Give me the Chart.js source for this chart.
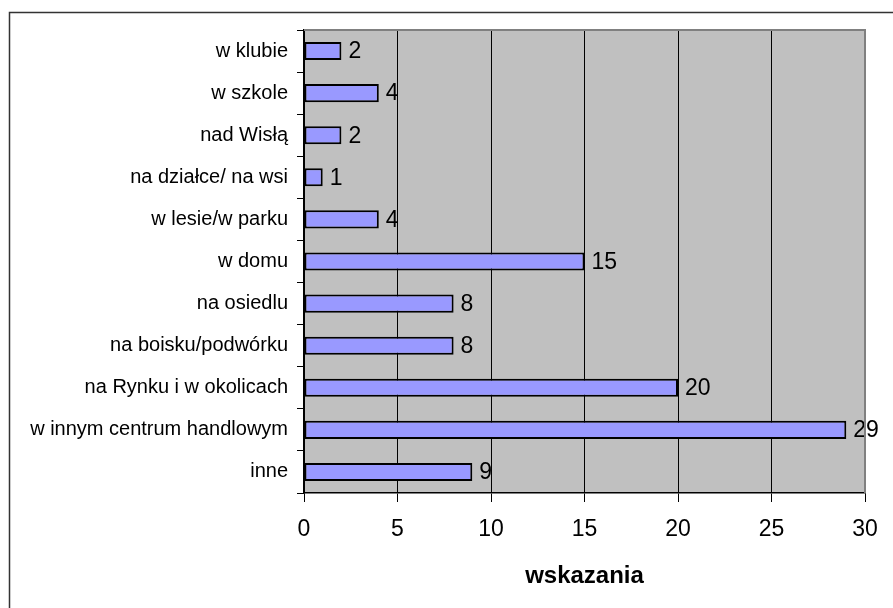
<!DOCTYPE html>
<html>
<head>
<meta charset="utf-8">
<script src="https://cdn.jsdelivr.net/npm/chart.js@4"></script>
<style>
  html, body { margin: 0; padding: 0; background: #fff; }
  #wrap { width: 893px; height: 608px; position: relative; }
</style>
</head>
<body>
<div id="wrap"><canvas id="barChart" width="893" height="608"></canvas></div>
<script>
const categories = [
  "w klubie", "w szkole", "nad Wisłą", "na działce/ na wsi", "w lesie/w parku",
  "w domu", "na osiedlu", "na boisku/podwórku", "na Rynku i w okolicach",
  "w innym centrum handlowym", "inne"
];
const counts = [2, 4, 2, 1, 4, 15, 8, 8, 20, 29, 9];
const xTicks = [0, 5, 10, 15, 20, 25, 30];
const axisTitle = "wskazania";

const FONT = "'Liberation Sans', Arial, sans-serif";

// gray plot area, gray top edge, outer frame
const frame = {
  id: "frame",
  beforeDraw(chart) {
    const { ctx, chartArea: a } = chart;
    ctx.save();
    ctx.fillStyle = "#c0c0c0";
    ctx.fillRect(a.left, a.top, a.right - a.left, a.bottom - a.top);
    ctx.restore();
  },
  afterDraw(chart) {
    const { ctx, chartArea: a } = chart;
    ctx.save();
    ctx.strokeStyle = "#808080";
    ctx.lineWidth = 2;
    ctx.beginPath();
    ctx.moveTo(a.left, a.top);
    ctx.lineTo(a.right, a.top);
    ctx.lineTo(a.right, a.bottom);
    ctx.stroke();
    ctx.strokeStyle = "#333";
    ctx.lineWidth = 1.5;
    ctx.beginPath();
    ctx.moveTo(9.5, 608);
    ctx.lineTo(9.5, 12.5);
    ctx.lineTo(893, 12.5);
    ctx.stroke();
    ctx.restore();
  }
};

const valueLabels = {
  id: "valueLabels",
  afterDatasetsDraw(chart) {
    const { ctx } = chart;
    const meta = chart.getDatasetMeta(0);
    ctx.save();
    ctx.fillStyle = "#000";
    ctx.font = "23px " + FONT;
    ctx.textBaseline = "middle";
    ctx.textAlign = "left";
    meta.data.forEach((bar, i) => {
      ctx.fillText(String(counts[i]), bar.x + 7, bar.y + 1);
    });
    ctx.restore();
  }
};

new Chart(document.getElementById("barChart"), {
  type: "bar",
  data: {
    labels: categories,
    datasets: [{
      data: counts,
      backgroundColor: "#9999ff",
      borderColor: "#000",
      borderWidth: 2,
      borderSkipped: false,
      barPercentage: 0.43,
      categoryPercentage: 1
    }]
  },
  options: {
    indexAxis: "y",
    responsive: false,
    animation: false,
    layout: { padding: { left: 0, top: 30, right: 28, bottom: 0 } },
    plugins: { legend: { display: false }, tooltip: { enabled: false } },
    scales: {
      x: {
        min: 0,
        max: 30,
        afterFit: s => { s.height = 115; },
        afterBuildTicks: s => { s.ticks = xTicks.map(v => ({ value: v })); },
        ticks: { color: "#000", font: { family: FONT, size: 23 }, padding: 14 },
        grid: {
          color: c => c.index === 6 ? "#808080" : "#000",
          lineWidth: 1,
          tickLength: 9,
          tickColor: "#000"
        },
        border: { color: "#000", width: 1.5 },
        title: {
          display: true,
          text: axisTitle,
          color: "#000",
          font: { family: FONT, size: 24, weight: "bold" },
          padding: { top: 0, bottom: 17 }
        }
      },
      y: {
        afterFit: s => { s.width = 304; },
        ticks: { color: "#000", font: { family: FONT, size: 20 }, padding: 9 },
        grid: {
          offset: true,
          drawOnChartArea: false,
          tickLength: 7,
          tickColor: "#000"
        },
        border: { color: "#000", width: 1.5 }
      }
    }
  },
  plugins: [frame, valueLabels]
});
</script>
</body>
</html>
